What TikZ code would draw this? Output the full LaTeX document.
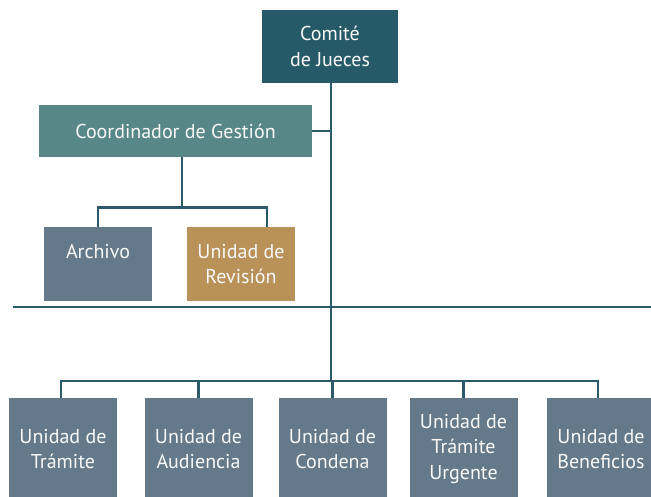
\documentclass[tikz,border=0pt]{standalone}
\usepackage{fontspec}
\setmainfont{PT Sans}
\usetikzlibrary{calc}
\definecolor{comite}{HTML}{275A69}
\definecolor{gestion}{HTML}{588787}
\definecolor{unidad}{HTML}{647A8A}
\definecolor{revision}{HTML}{B9925A}
\definecolor{linea}{HTML}{2B5B6A}
\tikzset{
  caja/.style={rectangle, inner sep=0pt, text=white!95!gray, align=center,
    font=\fontsize{20}{25.5}\selectfont},
  unidadbox/.style={caja, fill=unidad, minimum width=108pt, minimum height=102pt},
  enlace/.style={draw=linea, line width=2.4pt}
}

\begin{document}
\begin{tikzpicture}[x=1pt, y=-1pt]
\clip (0,0) rectangle (651,496);
\fill[white] (0,0) rectangle (651,496);
% upper part
\node[caja, fill=comite, minimum width=136pt, minimum height=73pt] (comite) at (330,46.5) {Comité\\de Jueces};
\node[caja, fill=gestion, minimum width=273pt, minimum height=52pt] (gestion) at (175.5,131) {Coordinador de Gestión};
\node[caja, fill=unidad, minimum width=108pt, minimum height=74pt] (archivo) at (98,264) {Archivo\\\mbox{}};
\node[caja, fill=revision, minimum width=108pt, minimum height=74pt] (revision) at (241,264) {Unidad de\\Revisión};
\coordinate (bus) at (331,381);
\draw[enlace] (comite.south -| bus) -- (bus);
\draw[enlace] (gestion.east) -- (gestion.east -| bus);
\coordinate (rama) at (182,207.5);
\draw[enlace] (rama |- gestion.south) -- (rama);
\draw[enlace] (archivo.north) |- (rama) -| ([xshift=26pt]revision.north);
\draw[linea, line width=1.2pt] (13,307) -- (651,307);
% units
\node[unidadbox] (tramite) at (63,449) {Unidad de\\Trámite};
\node[unidadbox] (audiencia) at (198.5,449) {Unidad de\\Audiencia};
\node[unidadbox] (condena) at (332.5,449) {Unidad de\\Condena};
\node[unidadbox] (urgente) at (463.5,449) {Unidad de\\Trámite\\Urgente};
\node[unidadbox] (beneficios) at (601,449) {Unidad de\\Beneficios};
\draw[enlace] ([xshift=-2pt]tramite.north) |- (bus) -| ([xshift=-3pt]beneficios.north);
\foreach \u in {audiencia,condena,urgente}
  \draw[enlace] (\u.north) -- (\u.north |- bus);
\end{tikzpicture}
\end{document}
